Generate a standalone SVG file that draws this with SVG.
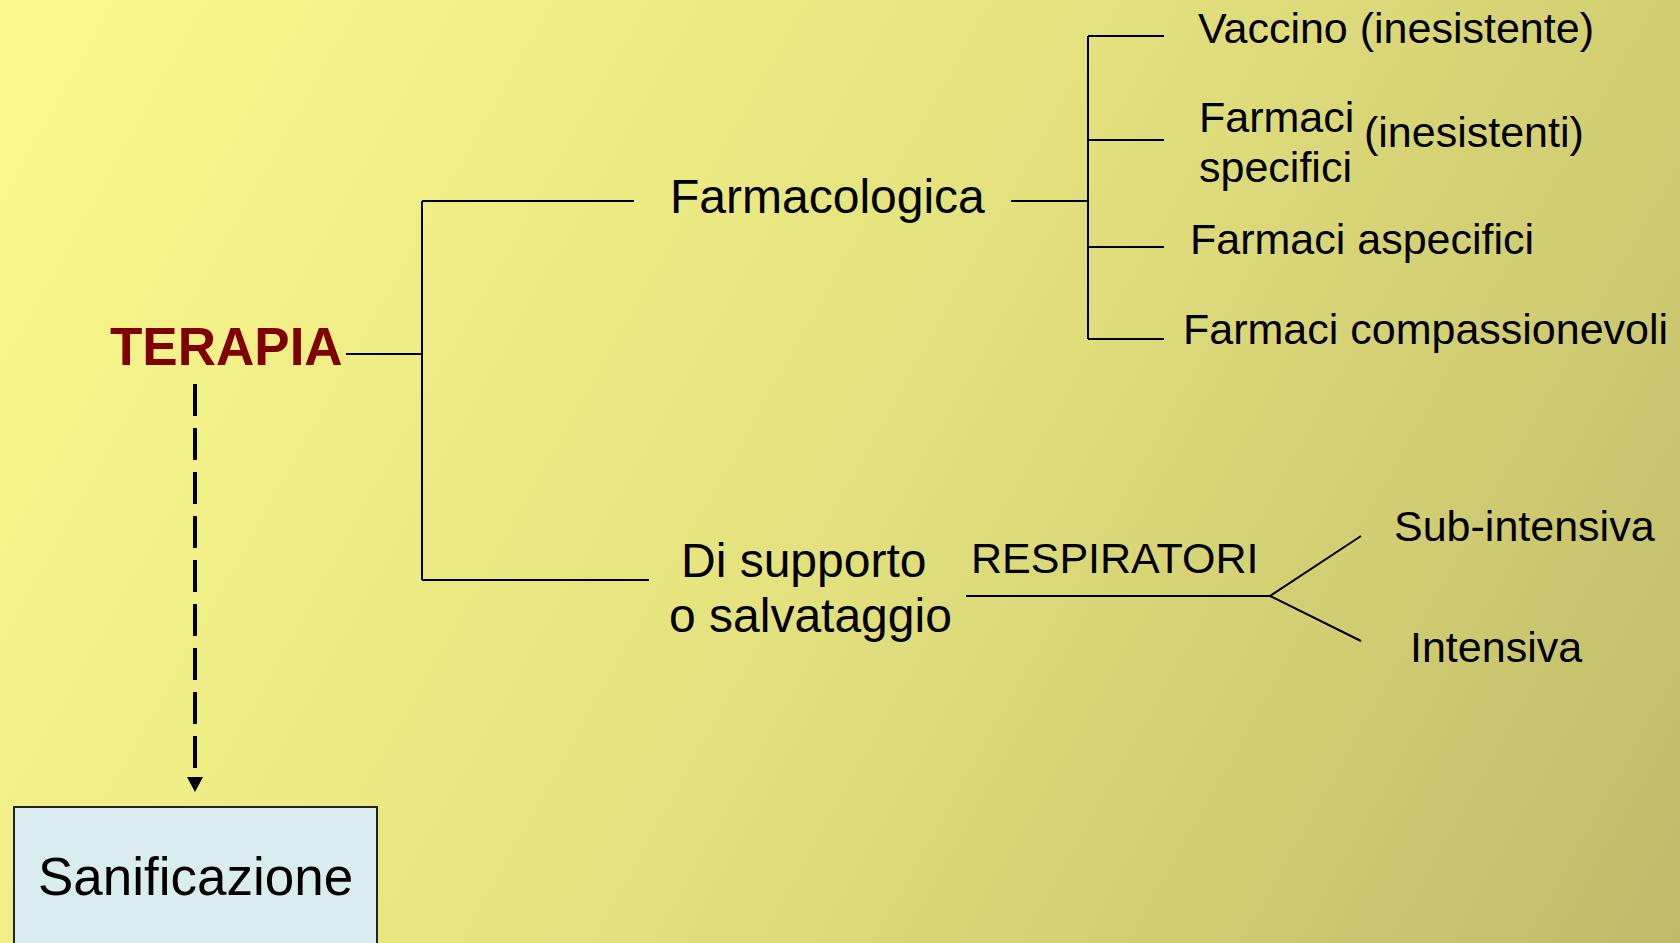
<svg xmlns="http://www.w3.org/2000/svg" width="1680" height="943" viewBox="0 0 1680 943">
<defs>
<linearGradient id="bg" gradientUnits="userSpaceOnUse" x1="0" y1="0" x2="1680" y2="943">
<stop offset="0" stop-color="#FBFA8D"/>
<stop offset="0.5" stop-color="#E4E27E"/>
<stop offset="1" stop-color="#C0BB69"/>
</linearGradient>
<marker id="arr" markerWidth="16" markerHeight="16" refX="0" refY="8" orient="auto" markerUnits="userSpaceOnUse" viewBox="0 0 16 16">
<path d="M0,0 L15,8 L0,16 Z" fill="#000"/>
</marker>
</defs>
<style>
.t{font-family:"Liberation Sans",Arial,sans-serif;fill:#000;}
.s42{font-size:43px;}
.s47{font-size:48px;}
.ln{stroke:#000;stroke-width:2;fill:none;}
</style>
<rect width="1680" height="943" fill="url(#bg)"/>
<g id="connectors">
<path class="ln" d="M346,354 H422 M422,201 V580 M422,201 H634 M422,580 H649"/>
<path class="ln" d="M1011,201 H1088 M1088,36 V339 M1088,36 H1164 M1088,140 H1164 M1088,247 H1164 M1088,339 H1164"/>
<path class="ln" d="M966,596 H1270 L1361,536 M1270,596 L1361,641"/>
<line x1="195" y1="384" x2="195" y2="777" stroke="#000" stroke-width="4" stroke-dasharray="32,12" marker-end="url(#arr)"/>
</g>
<g id="terapia"><text class="t" x="110" y="365" font-size="53" font-weight="bold" style="fill:#800000">TERAPIA</text></g>
<g id="farmacologica"><text class="t s47" x="670" y="213">Farmacologica</text></g>
<g id="vaccino"><text class="t s42" x="1198" y="43">Vaccino (inesistente)</text></g>
<g id="specifici"><text class="t s42" x="1199" y="132">Farmaci</text><text class="t s42" x="1199" y="182">specifici</text><text class="t s42" x="1364" y="147">(inesistenti)</text></g>
<g id="aspecifici"><text class="t s42" x="1190" y="254">Farmaci aspecifici</text></g>
<g id="compassionevoli"><text class="t s42" x="1183" y="344">Farmaci compassionevoli</text></g>
<g id="supporto"><text class="t s47" x="681" y="577">Di supporto</text><text class="t s47" x="669" y="632">o salvataggio</text></g>
<g id="respiratori"><text class="t s42" x="971" y="573">RESPIRATORI</text></g>
<g id="subintensiva"><text class="t s42" x="1394" y="541">Sub-intensiva</text></g>
<g id="intensiva"><text class="t s42" x="1410" y="662">Intensiva</text></g>
<g id="sanificazione"><rect x="14" y="807" width="363" height="150" fill="#D9ECEE" stroke="#222" stroke-width="2"/><text class="t" x="38" y="895" font-size="53">Sanificazione</text></g>
</svg>
